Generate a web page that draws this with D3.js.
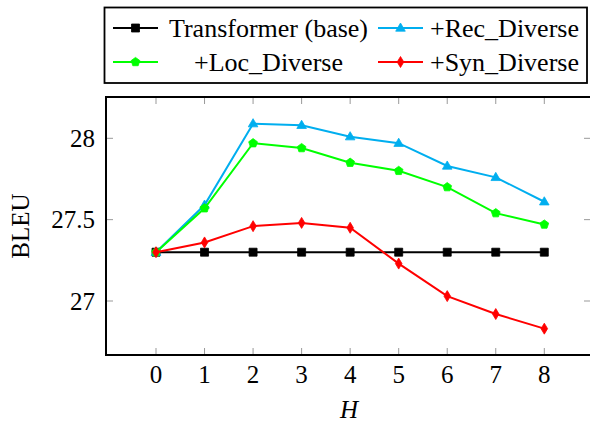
<!DOCTYPE html>
<html><head><meta charset="utf-8">
<script src="https://cdn.jsdelivr.net/npm/d3@7"></script>
<style>body{margin:0;background:#fff}svg{display:block}</style>
</head><body>
<script>
const H = [0,1,2,3,4,5,6,7,8];
const baseVals = [27.3,27.3,27.3,27.3,27.3,27.3,27.3,27.3,27.3];
const recVals  = [27.3,27.59,28.09,28.08,28.01,27.97,27.83,27.76,27.61];
const locVals  = [27.3,27.57,27.97,27.94,27.85,27.80,27.70,27.54,27.47];
const synVals  = [27.3,27.36,27.46,27.48,27.45,27.23,27.03,26.92,26.83];
const yTicks = [27,27.5,28];
const yTickLabels = ["27","27.5","28"];
const seriesNames = ["Transformer (base)","+Rec_Diverse","+Loc_Diverse","+Syn_Diverse"];

const FF = "'Liberation Serif', 'Times New Roman', Times, 'DejaVu Serif', serif";
const W=590,Hh=422;
const svg=d3.select("body").append("svg").attr("width",W).attr("height",Hh)
  .attr("font-family",FF).style("font-family",FF);
const x=d3.scaleLinear().domain([0,8]).range([156,544.3]);
const y=d3.scaleLinear().domain([27,28]).range([301,138.3]);
const L=106,R=591,T=97,B=355;

function txt(){return svg.append("text").attr("font-family",FF).style("font-family",FF).attr("fill","#000");}

// ticks
const tg=svg.append("g").attr("stroke","#999").attr("stroke-width",1);
H.forEach(h=>{
  tg.append("line").attr("x1",x(h)).attr("x2",x(h)).attr("y1",B).attr("y2",B-7);
  tg.append("line").attr("x1",x(h)).attr("x2",x(h)).attr("y1",T).attr("y2",T+7);
});
yTicks.forEach(v=>{
  tg.append("line").attr("x1",L).attr("x2",L+7).attr("y1",y(v)).attr("y2",y(v));
  tg.append("line").attr("x1",R).attr("x2",R-7).attr("y1",y(v)).attr("y2",y(v));
});
// tick labels
H.forEach(h=>txt().attr("x",x(h)).attr("y",383).attr("text-anchor","middle").attr("font-size",25).text(h));
yTicks.forEach((v,i)=>txt().attr("x",95).attr("y",y(v)+8.5).attr("text-anchor","end").attr("font-size",25).text(yTickLabels[i]));
txt().attr("transform","translate(29,226) rotate(-90)").attr("text-anchor","middle").attr("font-size",25).text("BLEU");
txt().attr("x",349).attr("y",418).attr("text-anchor","middle").attr("font-size",25).attr("font-style","italic").text("H");

// marker shapes
function pentagon(r){const p=[];for(let i=0;i<5;i++){const a=-Math.PI/2+i*2*Math.PI/5;p.push([r*Math.cos(a),r*Math.sin(a)]);}return "M"+p.map(d=>d.join(",")).join("L")+"Z";}
const markers={
  square:()=>"M-4,-4L4,-4L4,4L-4,4Z",
  triangle:()=>"M0,-5L4.8,3.2L-4.8,3.2Z",
  pent:()=>pentagon(4.6),
  diamond:()=>"M0,-5.5L3.3,0L0,5.5L-3.3,0Z"
};
const series=[
  {name:seriesNames[0],vals:baseVals,color:"#000000",m:"square"},
  {name:seriesNames[1],vals:recVals,color:"#00AEEF",m:"triangle"},
  {name:seriesNames[2],vals:locVals,color:"#00FF00",m:"pent"},
  {name:seriesNames[3],vals:synVals,color:"#FF0000",m:"diamond"}
];
const line=d3.line().x((d,i)=>x(H[i])).y(d=>y(d));
series.forEach(s=>{
  svg.append("path").attr("d",line(s.vals)).attr("fill","none").attr("stroke",s.color).attr("stroke-width",2);
  s.vals.forEach((v,i)=>svg.append("path").attr("d",markers[s.m]()).attr("transform",`translate(${x(H[i])},${y(v)})`).attr("fill",s.color).attr("stroke",s.color).attr("stroke-width",0.8));
});

// frame
svg.append("rect").attr("x",L).attr("y",T).attr("width",R-L).attr("height",B-T).attr("fill","none").attr("stroke","#000").attr("stroke-width",2);

// legend
svg.append("rect").attr("x",104.5).attr("y",7.5).attr("width",482.5).attr("height",75.5).attr("fill","#fff").attr("stroke","#000").attr("stroke-width",1.8);
const legPos=[{lx:113,ly:28,tx:268.5},{lx:378,ly:28,tx:504.5},{lx:113,ly:62,tx:268.5},{lx:378,ly:62,tx:504.5}];
[0,1,2,3].forEach(i=>{
  const s=series[i],p=legPos[i];
  svg.append("line").attr("x1",p.lx).attr("x2",p.lx+45).attr("y1",p.ly).attr("y2",p.ly).attr("stroke",s.color).attr("stroke-width",2);
  svg.append("path").attr("d",markers[s.m]()).attr("transform",`translate(${p.lx+22.5},${p.ly})`).attr("fill",s.color).attr("stroke",s.color).attr("stroke-width",0.8);
  txt().attr("x",p.tx).attr("y",p.ly+9).attr("text-anchor","middle").attr("font-size",26).text(s.name);
});
</script>
</body></html>
